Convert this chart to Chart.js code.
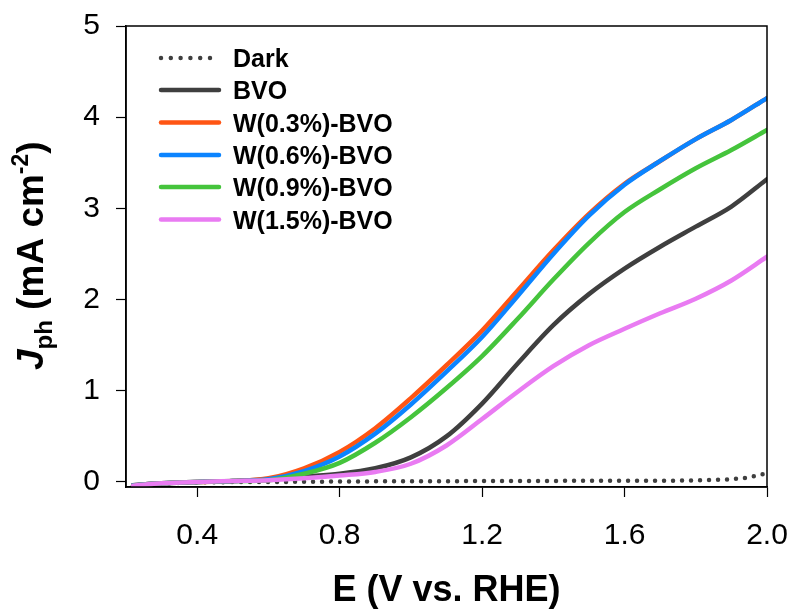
<!DOCTYPE html>
<html>
<head>
<meta charset="utf-8">
<script src="https://cdn.jsdelivr.net/npm/chart.js@4.4.1/dist/chart.umd.min.js"></script>
<style>
    html, body { margin: 0; padding: 0; background: #fff; }
    #wrap { width: 795px; height: 612px; }
</style>
</head>
<body>
<div id="wrap"><canvas id="myChart" width="795" height="612"></canvas></div>
<script>
// potential (V vs. RHE)
const E = [0.22, 0.3, 0.4, 0.5, 0.6, 0.7, 0.8, 0.9, 1.0, 1.1, 1.2, 1.3, 1.4, 1.5, 1.6, 1.7, 1.8, 1.9, 2.0];
const darkE = [0.22, 0.3, 0.4, 0.6, 0.8, 1.0, 1.2, 1.4, 1.6, 1.75, 1.85, 1.9, 1.95, 2.0];

// photocurrent (mA cm-2)
const dark = [-0.04, -0.02, -0.005, 0.0, 0.005, 0.008, 0.01, 0.012, 0.014, 0.015, 0.022, 0.03, 0.052, 0.095];
const bvo = [-0.035, -0.015, 0.0, 0.01, 0.03, 0.06, 0.09, 0.15, 0.27, 0.50, 0.86, 1.30, 1.72, 2.06, 2.34, 2.58, 2.80, 3.02, 3.32];
const w03 = [-0.035, -0.015, 0.0, 0.01, 0.04, 0.15, 0.33, 0.59, 0.92, 1.28, 1.66, 2.10, 2.54, 2.94, 3.27, 3.52, 3.76, 3.97, 4.21];
const w06 = [-0.035, -0.015, 0.0, 0.01, 0.03, 0.12, 0.28, 0.53, 0.85, 1.21, 1.59, 2.04, 2.50, 2.92, 3.26, 3.52, 3.76, 3.97, 4.21];
const w09 = [-0.04, -0.015, 0.0, 0.01, 0.02, 0.09, 0.21, 0.43, 0.71, 1.03, 1.38, 1.79, 2.22, 2.62, 2.96, 3.21, 3.44, 3.64, 3.86];
const w15 = [-0.04, -0.015, 0.0, 0.01, 0.02, 0.04, 0.07, 0.11, 0.20, 0.40, 0.69, 0.99, 1.27, 1.50, 1.68, 1.85, 2.01, 2.21, 2.47];

const xTicks = [0.4, 0.8, 1.2, 1.6, 2.0];
const yTicks = [0, 1, 2, 3, 4, 5];

const labels = ['Dark', 'BVO', 'W(0.3%)-BVO', 'W(0.6%)-BVO', 'W(0.9%)-BVO', 'W(1.5%)-BVO'];
const colors = ['#3f3f3f', '#3f3f3f', '#ff5514', '#0b84ff', '#45c43c', '#e97bf2'];

const FONT = "'Liberation Sans', Arial, sans-serif";

function pts(xs, ys) {
    return xs.map((x, i) => ({ x: x, y: ys[i] }));
}

const series = [pts(darkE, dark), pts(E, bvo), pts(E, w03), pts(E, w06), pts(E, w09), pts(E, w15)];

const datasets = series.map((d, i) => ({
    label: labels[i],
    data: d,
    borderColor: colors[i],
    backgroundColor: colors[i],
    borderWidth: 4.5,
    borderDash: i === 0 ? [0, 9] : [],
    borderCapStyle: 'round',
    borderJoinStyle: 'round',
    cubicInterpolationMode: 'monotone',
    pointRadius: 0,
    fill: false,
    order: 5 - i
}));

// frame, legend and axis titles
const decor = {
    id: 'decor',
    afterDraw(chart) {
        const c = chart.ctx;
        const a = chart.chartArea;
        c.save();
        c.strokeStyle = '#000';
        c.lineWidth = 1.5;
        c.strokeRect(a.left, a.top, a.right - a.left, a.bottom - a.top);

        // legend
        const rowY = [58, 90, 122.5, 155, 187, 219.5];
        labels.forEach((lab, i) => {
            const y = rowY[i];
            c.strokeStyle = colors[i];
            c.lineWidth = 4.5;
            c.lineCap = 'round';
            c.setLineDash(i === 0 ? [0, 9.8] : []);
            c.beginPath();
            c.moveTo(161, y);
            c.lineTo(219, y);
            c.stroke();
            c.setLineDash([]);
            c.fillStyle = '#000';
            c.font = 'bold 25px ' + FONT;
            c.textBaseline = 'alphabetic';
            c.textAlign = 'left';
            c.fillText(lab, 233, y + 9);
        });

        // x title
        c.font = 'bold 36px ' + FONT;
        c.textAlign = 'center';
        c.fillText('E (V vs. RHE)', (a.left + a.right) / 2, 601);

        // y title, rotated
        c.translate(43, 370);
        c.rotate(-Math.PI / 2);
        c.textAlign = 'left';
        let x = 0;
        const part = (txt, font, dy) => {
            c.font = font;
            c.fillText(txt, x, dy);
            x += c.measureText(txt).width;
        };
        part('J', 'italic bold 37px ' + FONT, 0);
        part('ph', 'bold 24px ' + FONT, 9);
        part(' (mA cm', 'bold 37px ' + FONT, 0);
        part('-2', 'bold 23px ' + FONT, -15);
        part(')', 'bold 37px ' + FONT, 0);
        c.restore();
    }
};

const ctx = document.getElementById('myChart').getContext('2d');
const myChart = new Chart(ctx, {
    type: 'line',
    data: { datasets: datasets },
    options: {
        responsive: false,
        animation: false,
        layout: { padding: { left: 0, top: 26, right: 28, bottom: 0 } },
        plugins: {
            legend: { display: false },
            tooltip: { enabled: false }
        },
        scales: {
            x: {
                type: 'linear',
                min: 0.2,
                max: 2.0,
                afterBuildTicks: s => { s.ticks = xTicks.map(v => ({ value: v })); },
                afterFit: s => { s.height = 125; s.paddingLeft = 0; s.paddingRight = 0; },
                border: { display: true, color: '#000', width: 1.5 },
                grid: { drawOnChartArea: false, color: '#000', tickLength: 10, tickWidth: 1.2 },
                ticks: {
                    color: '#000',
                    padding: 21,
                    maxRotation: 0,
                    font: { family: FONT, size: 30 },
                    callback: v => v.toFixed(1)
                }
            },
            y: {
                min: -0.055,
                max: 5,
                afterBuildTicks: s => { s.ticks = yTicks.map(v => ({ value: v })); },
                afterFit: s => { s.width = 126; s.paddingTop = 0; s.paddingBottom = 0; },
                border: { display: true, color: '#000', width: 1.5 },
                grid: { drawOnChartArea: false, color: '#000', tickLength: 10, tickWidth: 1.2 },
                ticks: {
                    color: '#000',
                    padding: 16,
                    font: { family: FONT, size: 30 },
                    callback: v => String(v)
                }
            }
        }
    },
    plugins: [decor]
});
</script>
</body>
</html>
